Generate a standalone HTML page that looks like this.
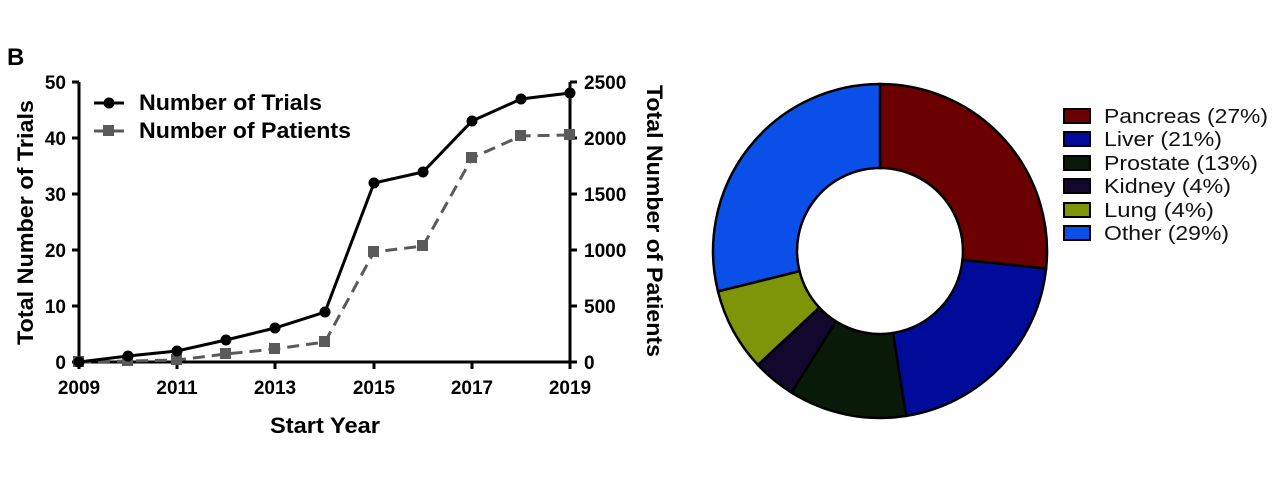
<!DOCTYPE html>
<html><head><meta charset="utf-8"><style>body{margin:0;background:#fff}svg{display:block}</style></head><body>
<svg width="1280" height="484" xmlns="http://www.w3.org/2000/svg" font-family="Liberation Sans, sans-serif">
<text x="7" y="65" font-size="24" font-weight="bold">B</text>
<g stroke="#000" stroke-width="3" fill="none">
<line x1="79" y1="82" x2="79" y2="363"/><line x1="570" y1="82" x2="570" y2="363"/><line x1="78" y1="362" x2="571" y2="362"/>
<line x1="72" y1="82" x2="79" y2="82"/><line x1="72" y1="138" x2="79" y2="138"/><line x1="72" y1="194" x2="79" y2="194"/><line x1="72" y1="250" x2="79" y2="250"/><line x1="72" y1="306" x2="79" y2="306"/><line x1="72" y1="362" x2="79" y2="362"/>
<line x1="570" y1="82" x2="577" y2="82"/><line x1="570" y1="138" x2="577" y2="138"/><line x1="570" y1="194" x2="577" y2="194"/><line x1="570" y1="250" x2="577" y2="250"/><line x1="570" y1="306" x2="577" y2="306"/><line x1="570" y1="362" x2="577" y2="362"/>
<line x1="79" y1="362" x2="79" y2="369"/><line x1="177" y1="362" x2="177" y2="369"/><line x1="275" y1="362" x2="275" y2="369"/><line x1="374" y1="362" x2="374" y2="369"/><line x1="472" y1="362" x2="472" y2="369"/><line x1="570" y1="362" x2="570" y2="369"/>
</g>
<g font-size="19" font-weight="bold" text-anchor="end">
<text x="66" y="89">50</text><text x="66" y="145">40</text><text x="66" y="201">30</text><text x="66" y="257">20</text><text x="66" y="313">10</text><text x="66" y="369">0</text>
</g>
<g font-size="19" font-weight="bold">
<text x="584" y="89">2500</text><text x="584" y="145">2000</text><text x="584" y="201">1500</text><text x="584" y="257">1000</text><text x="584" y="313">500</text><text x="584" y="369">0</text>
</g>
<g font-size="19" font-weight="bold" text-anchor="middle">
<text x="79" y="394">2009</text><text x="177" y="394">2011</text><text x="275" y="394">2013</text><text x="374" y="394">2015</text><text x="472" y="394">2017</text><text x="570" y="394">2019</text>
</g>
<text x="270" y="433" font-size="22" font-weight="bold" textLength="110" lengthAdjust="spacingAndGlyphs">Start Year</text>
<text transform="translate(33,345) rotate(-90)" font-size="22" font-weight="bold" textLength="245" lengthAdjust="spacingAndGlyphs">Total Number of  Trials</text>
<text transform="translate(647,85) rotate(90)" font-size="22" font-weight="bold" textLength="272" lengthAdjust="spacingAndGlyphs">Total Number of Patients</text>
<polyline fill="none" stroke="#5a5a5a" stroke-width="3" stroke-dasharray="12,7" points="79,362 128,361 177,360 226,354 275,349 325,342 374,252 423,246 472,158 521,136 570,135"/>
<g fill="#5a5a5a">
<rect x="73" y="356" width="11" height="11"/><rect x="122" y="355" width="11" height="11"/><rect x="171" y="354" width="11" height="11"/><rect x="220" y="348" width="11" height="11"/><rect x="269" y="343" width="11" height="11"/><rect x="319" y="336" width="11" height="11"/><rect x="368" y="246" width="11" height="11"/><rect x="417" y="240" width="11" height="11"/><rect x="466" y="152" width="11" height="11"/><rect x="515" y="130" width="11" height="11"/><rect x="564" y="129" width="11" height="11"/>
</g>
<polyline fill="none" stroke="#000" stroke-width="3" points="79,362 128,356 177,351 226,340 275,328 325,312 374,183 423,172 472,121 521,99 570,93"/>
<g fill="#000">
<circle cx="79" cy="362" r="5.5"/><circle cx="128" cy="356" r="5.5"/><circle cx="177" cy="351" r="5.5"/><circle cx="226" cy="340" r="5.5"/><circle cx="275" cy="328" r="5.5"/><circle cx="325" cy="312" r="5.5"/><circle cx="374" cy="183" r="5.5"/><circle cx="423" cy="172" r="5.5"/><circle cx="472" cy="121" r="5.5"/><circle cx="521" cy="99" r="5.5"/><circle cx="570" cy="93" r="5.5"/>
</g>
<line x1="94" y1="103" x2="124" y2="103" stroke="#000" stroke-width="3"/><circle cx="109" cy="103" r="5.5"/>
<line x1="94" y1="131" x2="124" y2="131" stroke="#5a5a5a" stroke-width="3"/><rect x="103" y="125" width="11" height="11" fill="#5a5a5a"/>
<text x="139" y="110" font-size="22" font-weight="bold" textLength="183" lengthAdjust="spacingAndGlyphs">Number of Trials</text>
<text x="139" y="138" font-size="22" font-weight="bold" textLength="212" lengthAdjust="spacingAndGlyphs">Number of Patients</text>
<g stroke="#000" stroke-width="2.5">
<path fill="#6b0000" d="M880,84 A167,167 0 0 1 1046.1,268.5 L962.5,259.7 A83,83 0 0 0 880,168 Z"/>
<path fill="#000b99" d="M1046.1,268.5 A167,167 0 0 1 906.1,415.9 L893,333 A83,83 0 0 0 962.5,259.7 Z"/>
<path fill="#0a1a08" d="M906.1,415.9 A167,167 0 0 1 791.5,392.6 L836,321.4 A83,83 0 0 0 893,333 Z"/>
<path fill="#12082e" d="M791.5,392.6 A167,167 0 0 1 757.9,364.9 L819.3,307.6 A83,83 0 0 0 836,321.4 Z"/>
<path fill="#7e950a" d="M757.9,364.9 A167,167 0 0 1 718,291.4 L799.5,271.1 A83,83 0 0 0 819.3,307.6 Z"/>
<path fill="#0a4fe8" d="M718,291.4 A167,167 0 0 1 880,84 L880,168 A83,83 0 0 0 799.5,271.1 Z"/>
</g>
<g stroke="#000" stroke-width="2">
<rect x="1064" y="109" width="26" height="14" fill="#6b0000"/>
<rect x="1064" y="132" width="26" height="14" fill="#000b99"/>
<rect x="1064" y="156" width="26" height="14" fill="#0a1a08"/>
<rect x="1064" y="179" width="26" height="14" fill="#12082e"/>
<rect x="1064" y="203" width="26" height="14" fill="#7e950a"/>
<rect x="1064" y="226" width="26" height="14" fill="#0a4fe8"/>
</g>
<g font-size="20" fill="#111">
<text x="1104" y="123" textLength="164" lengthAdjust="spacingAndGlyphs">Pancreas (27%)</text>
<text x="1104" y="146" textLength="118" lengthAdjust="spacingAndGlyphs">Liver (21%)</text>
<text x="1104" y="170" textLength="154" lengthAdjust="spacingAndGlyphs">Prostate (13%)</text>
<text x="1104" y="193" textLength="127" lengthAdjust="spacingAndGlyphs">Kidney (4%)</text>
<text x="1104" y="217" textLength="110" lengthAdjust="spacingAndGlyphs">Lung (4%)</text>
<text x="1104" y="240" textLength="125" lengthAdjust="spacingAndGlyphs">Other (29%)</text>
</g>
</svg>
</body></html>
